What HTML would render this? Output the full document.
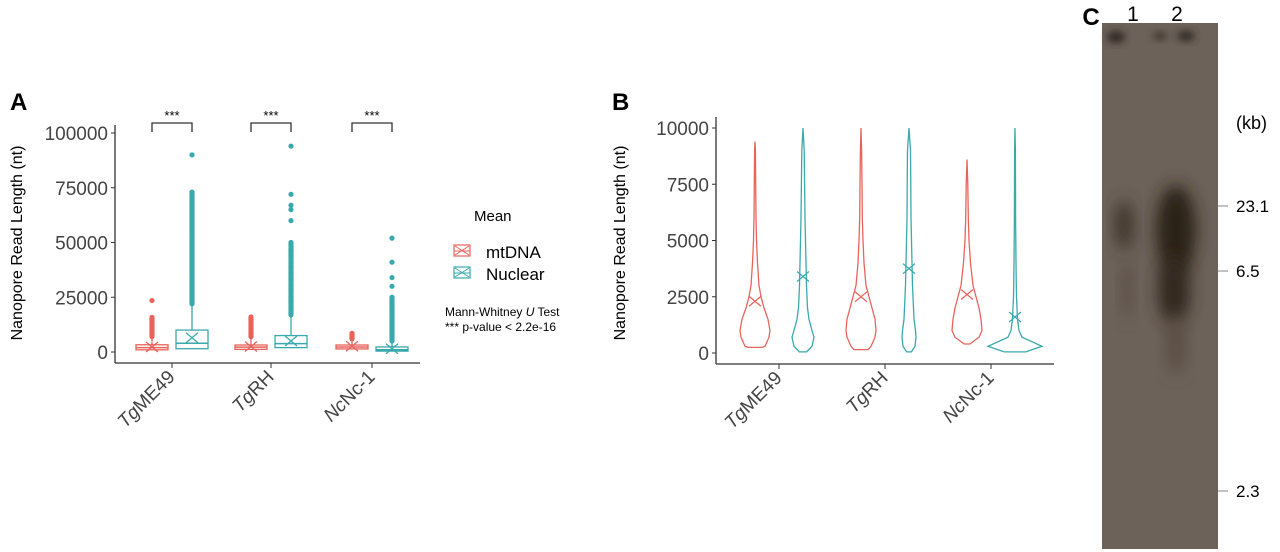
<!DOCTYPE html>
<html><head><meta charset="utf-8"><style>
body{margin:0;background:#fff;width:1280px;height:552px;overflow:hidden}
svg{display:block;font-family:"Liberation Sans",sans-serif}
</style></head><body>
<svg id="fig" width="1280" height="552">
<defs>
<filter id="blur8" x="-50%" y="-50%" width="200%" height="200%"><feGaussianBlur stdDeviation="8"/></filter>
<filter id="blur4" x="-50%" y="-50%" width="200%" height="200%"><feGaussianBlur stdDeviation="4"/></filter>
</defs>
<g id="panelA"></g>
<g id="panelB"></g>
<g id="panelC">
  <rect x="1102" y="23" width="116" height="526" fill="#6d625a"/>
  <ellipse cx="1116" cy="37" rx="9" ry="6" fill="#2e2520" filter="url(#blur4)"/>
  <ellipse cx="1160" cy="36" rx="7" ry="4" fill="#3e332c" filter="url(#blur4)"/>
  <ellipse cx="1186" cy="36" rx="9" ry="5" fill="#2e2520" filter="url(#blur4)"/>
  <ellipse cx="1124" cy="225" rx="9" ry="25" fill="#3c3028" filter="url(#blur8)"/>
  <ellipse cx="1127" cy="290" rx="6" ry="30" fill="#5a4e45" filter="url(#blur8)"/>
  <ellipse cx="1176" cy="230" rx="20" ry="45" fill="#2c2019" filter="url(#blur8)"/>
  <ellipse cx="1174" cy="290" rx="16" ry="35" fill="#33271f" filter="url(#blur8)"/>
  <ellipse cx="1176" cy="345" rx="10" ry="30" fill="#5a4d43" filter="url(#blur8)"/>
  <text x="1091" y="25" font-size="24" font-weight="bold" fill="#000" text-anchor="middle">C</text>
  <text x="1133" y="21" font-size="21" fill="#000" text-anchor="middle">1</text>
  <text x="1177" y="21" font-size="21" fill="#000" text-anchor="middle">2</text>
  <text x="1236" y="129" font-size="18" fill="#000">(kb)</text>
</g>
</svg>
<script>
const NS="http://www.w3.org/2000/svg";
function mk(parent,tag,attrs,text){const e=document.createElementNS(NS,tag);for(const k in attrs)e.setAttribute(k,attrs[k]);if(text!==undefined)e.textContent=text;parent.appendChild(e);return e;}
const RED="#e8635b",TEAL="#3aa9ad";

// ---------- Panel A data ----------
const catsPrefix=["Tg","Tg","Nc"];
const catsSuffix=["ME49","RH","Nc-1"];
const aTicks=[0,25000,50000,75000,100000];
const aTickLabels=["0","25000","50000","75000","100000"];
const mtQ1=[1000,1200,1400];
const mtMed=[2000,2200,2300];
const mtQ3=[3300,3200,3200];
const mtWhiskHi=[7000,7000,6000];
const mtOutMax=[23500,16000,8500];
const mtMean=[2300,2500,2600];
const nuQ1=[1500,2000,400];
const nuMed=[4000,3800,1000];
const nuQ3=[10000,7500,2300];
const nuWhiskHi=[22000,17000,5000];
const nuOutDenseMax=[73000,50000,25000];
const nuOutMax=[90000,94000,52000];
const nuOutExtra=[[],[72000,67000,65000,60000],[41000,34000,30000]];
const nuMean=[6500,5000,1500];

// ---------- Panel B data ----------
const bTicks=[0,2500,5000,7500,10000];
const bTickLabels=["0","2500","5000","7500","10000"];
const vLevels=[0,300,700,1000,1500,2000,2500,3000,4000,5000,6000,7500,9000,10000];
const vMtWidth=[
 [0,10,14,15,13,9,6,4,2.5,1.5,1,0.7,0.4,0],
 [0,10,14,15,14,11,8,5,3,2,1.3,1,0.6,0.3],
 [0,4,12,15,14,12,9,6,3.5,2,1.3,0.8,0,0]];
const vNuWidth=[
 [0,9,11,9,6,4.5,4,3.5,3,2.5,2,1.6,1.2,1],
 [0,6,7,6.5,5,4.5,4,3.5,3,2.5,2,1.8,1.5,1.2],
 [0,27,7,4,2.5,2,1.5,1.3,1,0.8,0.6,0.5,0.4,0.3]];
const vMtMin=[250,150,400];
const vMtMax=[9400,10000,8600];
const vNuMin=[50,50,50];
const vNuMax=[10000,10000,10000];
const vMtMean=[2300,2500,2600];
const vNuMean=[3400,3750,1600];

// ---------- Panel C data ----------
const gelMarkers=["23.1","6.5","2.3"];
const gelMarkerY=[206,271,491];

// ===== Panel A =====
const A=document.getElementById('panelA');
const aX0=115,aX1=420,aY0=352,aYtop=133,aMax=100000;
const ay=v=>aY0-(v/aMax)*(aY0-aYtop);
const aCat=[172,271,372];
mk(A,'text',{x:10,y:110,'font-size':24,'font-weight':'bold',},'A');
mk(A,'line',{x1:aX0,y1:125,x2:aX0,y2:363,stroke:'#333','stroke-width':1.3,});
mk(A,'line',{x1:aX0,y1:363,x2:aX1,y2:363,stroke:'#333','stroke-width':1.3,});
aTicks.forEach((t,i)=>{
  mk(A,'line',{x1:aX0-4,y1:ay(t),x2:aX0,y2:ay(t),stroke:'#333'});
  const e=mk(A,'text',{x:aX0-7,y:ay(t)+7,'font-size':19,fill:'#444','text-anchor':'end'},aTickLabels[i]);
  
  
});
mk(A,'text',{transform:'translate(22,243) rotate(-90)','font-size':16,'text-anchor':'middle',},'Nanopore Read Length (nt)');
function box(g,cx,q1,med,q3,wh,mean,col,name){
  const w=32;
  const grp=mk(g,'g',{});
  
  
  mk(grp,'line',{x1:cx,y1:ay(q3),x2:cx,y2:ay(wh),stroke:col,'stroke-width':1.3});
  mk(grp,'rect',{x:cx-w/2,y:ay(q3),width:w,height:ay(q1)-ay(q3),fill:'#fff',stroke:col,'stroke-width':1.3});
  mk(grp,'line',{x1:cx-w/2,y1:ay(med),x2:cx+w/2,y2:ay(med),stroke:col,'stroke-width':1.5});
  const m=ay(mean);
  mk(grp,'path',{d:`M${cx-6},${m-5}L${cx+6},${m+5}M${cx-6},${m+5}L${cx+6},${m-5}`,stroke:col,'stroke-width':1.3,fill:'none'});
}
for(let i=0;i<3;i++){
  const cm=aCat[i]-20,cn=aCat[i]+20;
  for(let v=mtWhiskHi[i];v<=Math.min(mtOutMax[i],16000);v+=400){const c=mk(A,'circle',{cx:cm,cy:ay(v),r:2.6,fill:RED});}
  {const c=mk(A,'circle',{cx:cm,cy:ay(mtOutMax[i]),r:2.6,fill:RED});}
  box(A,cm,mtQ1[i],mtMed[i],mtQ3[i],mtWhiskHi[i],mtMean[i],RED,'mtdna-box-'+i);
  for(let v=nuWhiskHi[i];v<=nuOutDenseMax[i];v+=500){const c=mk(A,'circle',{cx:cn,cy:ay(v),r:2.6,fill:TEAL});}
  nuOutExtra[i].concat([nuOutMax[i]]).forEach(v=>{const c=mk(A,'circle',{cx:cn,cy:ay(v),r:2.6,fill:TEAL});});
  box(A,cn,nuQ1[i],nuMed[i],nuQ3[i],nuWhiskHi[i],nuMean[i],TEAL,'nuclear-box-'+i);
  const br=mk(A,'path',{d:`M${cm},132V123H${cn}V132`,stroke:'#333','stroke-width':1.3,fill:'none'});
  
  
  mk(A,'text',{x:aCat[i],y:120,'font-size':13,'text-anchor':'middle'},'***');
  mk(A,'line',{x1:aCat[i],y1:363,x2:aCat[i],y2:368,stroke:'#333'});
  const lbl=mk(A,'text',{transform:`translate(${aCat[i]+4},${378}) rotate(-45)`,'font-size':19,fill:'#444','text-anchor':'end'});
  
  
  mk(lbl,'tspan',{'font-style':'italic'},catsPrefix[i]);
  mk(lbl,'tspan',{},catsSuffix[i]);
}
const L=mk(A,'g',{});


mk(L,'text',{x:474,y:221,'font-size':15},'Mean');
[[RED,'mtDNA',251],[TEAL,'Nuclear',273]].forEach(([c,t,y])=>{
  const e=mk(L,'g',{});
  
  
  mk(e,'rect',{x:454,y:y-6,width:16,height:11,fill:'#fff',stroke:c,'stroke-width':1.2});
  mk(e,'path',{d:`M455,${y-5}L469,${y+4}M455,${y+4}L469,${y-5}M454,${y}H470`,stroke:c,'stroke-width':1});
  mk(e,'text',{x:486,y:y+7,'font-size':17},t);
});
const mw=mk(L,'text',{x:445,y:316,'font-size':12});
mw.appendChild(document.createTextNode('Mann-Whitney '));
mk(mw,'tspan',{'font-style':'italic'},'U');
mw.appendChild(document.createTextNode(' Test'));
mk(L,'text',{x:445,y:331,'font-size':12},'*** p-value < 2.2e-16');

// ===== Panel B =====
const B=document.getElementById('panelB');
const bX0=716,bX1=1054,bY0=353,bYtop=128,bMax=10000;
const by=v=>bY0-(v/bMax)*(bY0-bYtop);
const bCat=[779,885,991];
mk(B,'text',{x:612,y:110,'font-size':24,'font-weight':'bold',},'B');
mk(B,'line',{x1:bX0,y1:117,x2:bX0,y2:364,stroke:'#333','stroke-width':1.3,});
mk(B,'line',{x1:bX0,y1:364,x2:bX1,y2:364,stroke:'#333','stroke-width':1.3,});
bTicks.forEach((t,i)=>{
  mk(B,'line',{x1:bX0-4,y1:by(t),x2:bX0,y2:by(t),stroke:'#333'});
  const e=mk(B,'text',{x:bX0-7,y:by(t)+7,'font-size':19,fill:'#444','text-anchor':'end'},bTickLabels[i]);
  
  
});
mk(B,'text',{transform:'translate(625,243) rotate(-90)','font-size':16,'text-anchor':'middle',},'Nanopore Read Length (nt)');
function violin(cx,widths,vmin,vmax,mean,col,name){
  const pts=[];
  vLevels.forEach((v,k)=>{if(v>vmin&&v<vmax)pts.push([v,widths[k]]);});
  pts.unshift([vmin,widths[0]]);
  pts.push([vmax,0]);
  let d='M'+pts.map(p=>`${cx+p[1]},${by(p[0])}`).join('L');
  d+='L'+pts.slice().reverse().map(p=>`${cx-p[1]},${by(p[0])}`).join('L')+'Z';
  const e=mk(B,'path',{d:d,fill:'none',stroke:col,'stroke-width':1.3});
  
  
  const m=by(mean);
  mk(B,'path',{d:`M${cx-6},${m-5}L${cx+6},${m+5}M${cx-6},${m+5}L${cx+6},${m-5}`,stroke:col,'stroke-width':1.2,fill:'none'});
}
for(let i=0;i<3;i++){
  const mw0=vMtWidth[i].slice();mw0[0]=mw0[1]*0.7;
  const nw0=vNuWidth[i].slice();nw0[0]=nw0[1]*0.4;
  violin(bCat[i]-24,mw0,vMtMin[i],vMtMax[i],vMtMean[i],RED,'mtdna-violin-'+i);
  violin(bCat[i]+24,nw0,vNuMin[i],vNuMax[i],vNuMean[i],TEAL,'nuclear-violin-'+i);
  mk(B,'line',{x1:bCat[i],y1:364,x2:bCat[i],y2:369,stroke:'#333'});
  const lbl=mk(B,'text',{transform:`translate(${bCat[i]+4},${379}) rotate(-45)`,'font-size':19,fill:'#444','text-anchor':'end'});
  
  
  mk(lbl,'tspan',{'font-style':'italic'},catsPrefix[i]);
  mk(lbl,'tspan',{},catsSuffix[i]);
}

// ===== Panel C markers =====
const C=document.getElementById('panelC');
gelMarkers.forEach((m,i)=>{
  mk(C,'line',{x1:1218,y1:gelMarkerY[i],x2:1228,y2:gelMarkerY[i],stroke:'#999','stroke-width':1.2});
  const t=mk(C,'text',{x:1236,y:gelMarkerY[i]+6,'font-size':17},m);
  
  
});
</script>
</body></html>
